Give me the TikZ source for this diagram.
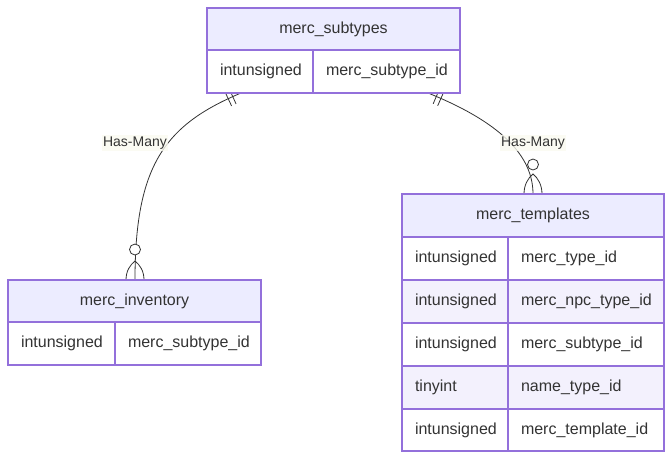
\documentclass[tikz,border=0pt]{standalone}
\usepackage{fontspec}
\setmainfont{Liberation Sans}
\usetikzlibrary{decorations.markings}
\definecolor{bord}{HTML}{9370DB}
\definecolor{hdrfill}{HTML}{ECECFF}
\definecolor{evenfill}{HTML}{F3F1FD}
\definecolor{txt}{HTML}{333333}
\definecolor{lblfill}{HTML}{FAFAF0}
\tikzset{
  cellbox/.style={draw=bord, line width=1.2pt, inner ysep=0pt, outer sep=0pt,
    anchor=north west, text=txt, font=\fontsize{16}{19}\selectfont},
  hdrbox/.style={cellbox, fill=hdrfill, align=center},
  oddbox/.style={cellbox, fill=white, inner xsep=13pt, align=left},
  evenbox/.style={cellbox, fill=evenfill, inner xsep=13pt, align=left},
  relline/.style={draw=black!80, line width=0.8pt},
  onlyone/.style={postaction={decorate}, decoration={markings,
    mark=at position 9pt with {\draw[black!80, line width=0.8pt] (0,-8pt) -- (0,8pt);},
    mark=at position 14pt with {\draw[black!80, line width=0.8pt] (0,-8pt) -- (0,8pt);}}},
  lbl/.style={fill=lblfill, fill opacity=0.8, text opacity=1, text=txt, inner sep=1.5pt,
    font=\fontsize{14}{16}\selectfont},
  crowcirc/.style={draw=black!80, fill=white, line width=0.8pt, circle, minimum size=11pt, inner sep=0pt},
}
\begin{document}
\begin{tikzpicture}[x=1pt,y=-1pt]
\useasboundingbox (0,0) rectangle (672,459);
% connector end points
\coordinate (e1s) at (241,93);
\coordinate (e1e) at (135,280);
\coordinate (e2s) at (428,93);
\coordinate (e2e) at (533,194);
% connectors
\draw[relline, onlyone] (e1s) .. controls (165,125) and (135,165) .. (e1e);
\draw[relline, onlyone] (e2s) .. controls (490,118) and (533,150) .. (e2e);
% crow's feet (zero or more)
\draw[relline] (126,280) .. controls (126,271) and (130,265) .. (135,261)
  .. controls (140,265) and (144,271) .. (144,280);
\node[crowcirc] (c1) at (135,249.5) {};
\draw[relline] (524,194) .. controls (524,185) and (528,178) .. (533,174)
  .. controls (538,178) and (542,185) .. (542,194);
\node[crowcirc] (c2) at (533,164.5) {};
% labels
\node[lbl] (l1) at (135,143) {Has-Many};
\node[lbl] (l2) at (533,143) {Has-Many};
% merc_subtypes
\node[hdrbox, minimum width=253pt, minimum height=42pt] (sh) at (207,8) {merc\_subtypes};
\node[oddbox, text width=80pt, minimum height=43pt] (s1a) at (207,50) {intunsigned};
\node[oddbox, text width=121pt, minimum height=43pt] (s1b) at (313,50) {merc\_subtype\_id};
% merc_inventory
\node[hdrbox, minimum width=253pt, minimum height=42pt] (ih) at (8,280) {merc\_inventory};
\node[oddbox, text width=81pt, minimum height=43pt] (i1a) at (8,322) {intunsigned};
\node[oddbox, text width=120pt, minimum height=43pt] (i1b) at (115,322) {merc\_subtype\_id};
% merc_templates
\node[hdrbox, minimum width=262pt, minimum height=43pt] (th) at (402,194) {merc\_templates};
\node[oddbox, text width=80pt, minimum height=43pt] (t1a) at (402,237) {intunsigned};
\node[oddbox, text width=130pt, minimum height=43pt] (t1b) at (508,237) {merc\_type\_id};
\node[evenbox, text width=80pt, minimum height=43pt] (t2a) at (402,280) {intunsigned};
\node[evenbox, text width=130pt, minimum height=43pt] (t2b) at (508,280) {merc\_npc\_type\_id};
\node[oddbox, text width=80pt, minimum height=43pt] (t3a) at (402,323) {intunsigned};
\node[oddbox, text width=130pt, minimum height=43pt] (t3b) at (508,323) {merc\_subtype\_id};
\node[evenbox, text width=80pt, minimum height=43pt] (t4a) at (402,366) {tinyint};
\node[evenbox, text width=130pt, minimum height=43pt] (t4b) at (508,366) {name\_type\_id};
\node[oddbox, text width=80pt, minimum height=42pt] (t5a) at (402,409) {intunsigned};
\node[oddbox, text width=130pt, minimum height=42pt] (t5b) at (508,409) {merc\_template\_id};
\end{tikzpicture}
\end{document}
